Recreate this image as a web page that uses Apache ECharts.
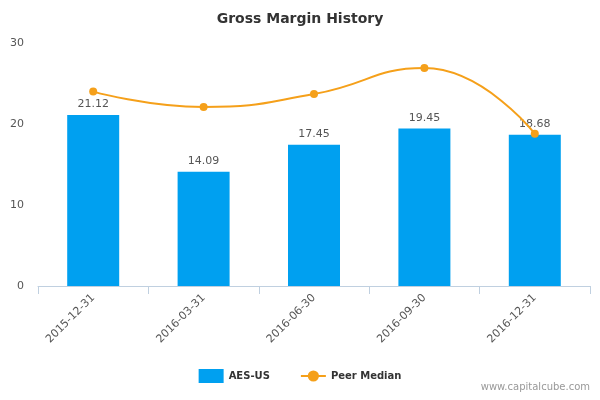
<!DOCTYPE html>
<html><head><meta charset="utf-8">
<script src="https://cdn.jsdelivr.net/npm/echarts@6/dist/echarts.min.js"></script>
<style>html,body{margin:0;padding:0;background:#fff}#c{width:600px;height:400px}</style>
</head><body><div id="c"></div>
<script>
const categories = ['2015-12-31','2016-03-31','2016-06-30','2016-09-30','2016-12-31'];
const aesValues = [21.12, 14.09, 17.45, 19.45, 18.68];
const peerMedian = [24.0, 22.1, 23.7, 26.9, 18.8];
const yTicks = [0, 10, 20, 30];

const chart = echarts.init(document.getElementById('c'));
chart.setOption({
  animation: false,
  title: {text: 'Gross Margin History', left: 'center', top: 7,
    textStyle: {fontFamily: 'DejaVu Sans', fontSize: 14, fontWeight: 'bold', color: '#333'}},
  legend: {bottom: 12, left: 'center', itemGap: 30,
    textStyle: {fontFamily: 'DejaVu Sans', fontSize: 10, fontWeight: 'bold', color: '#333'},
    data: [{name: 'AES-US', icon: 'rect'}, {name: 'Peer Median'}]},
  graphic: [{type: 'text', right: 10, bottom: 8,
    style: {text: 'www.capitalcube.com', fill: '#999', font: '10px DejaVu Sans'}}],
  grid: {left: 38, right: 10, top: 43, bottom: 114},
  xAxis: {type: 'category', data: categories, boundaryGap: true,
    axisLine: {lineStyle: {color: '#c0d0e0'}},
    axisTick: {show: true, alignWithLabel: false, length: 8, lineStyle: {color: '#c0d0e0'}},
    axisLabel: {rotate: 45, color: '#555', fontFamily: 'DejaVu Sans', fontSize: 11, margin: 10}},
  yAxis: {type: 'value', min: yTicks[0], max: yTicks[yTicks.length-1], interval: 10,
    splitLine: {show: false}, axisLine: {show: false}, axisTick: {show: false},
    axisLabel: {color: '#555', fontFamily: 'DejaVu Sans', fontSize: 11, margin: 14}},
  series: [
    {name: 'AES-US', type: 'bar', data: aesValues, barWidth: 52,
     itemStyle: {color: '#00a0f0'},
     label: {show: true, position: 'top', color: '#555', fontFamily: 'DejaVu Sans', fontSize: 11,
       formatter: p => p.value.toFixed(2)}},
    {name: 'Peer Median', type: 'line', data: peerMedian, smooth: 0.5,
     symbol: 'circle', symbolSize: 8,
     itemStyle: {color: '#f5a01a'}, lineStyle: {color: '#f5a01a', width: 2}}
  ]
});
</script></body></html>
